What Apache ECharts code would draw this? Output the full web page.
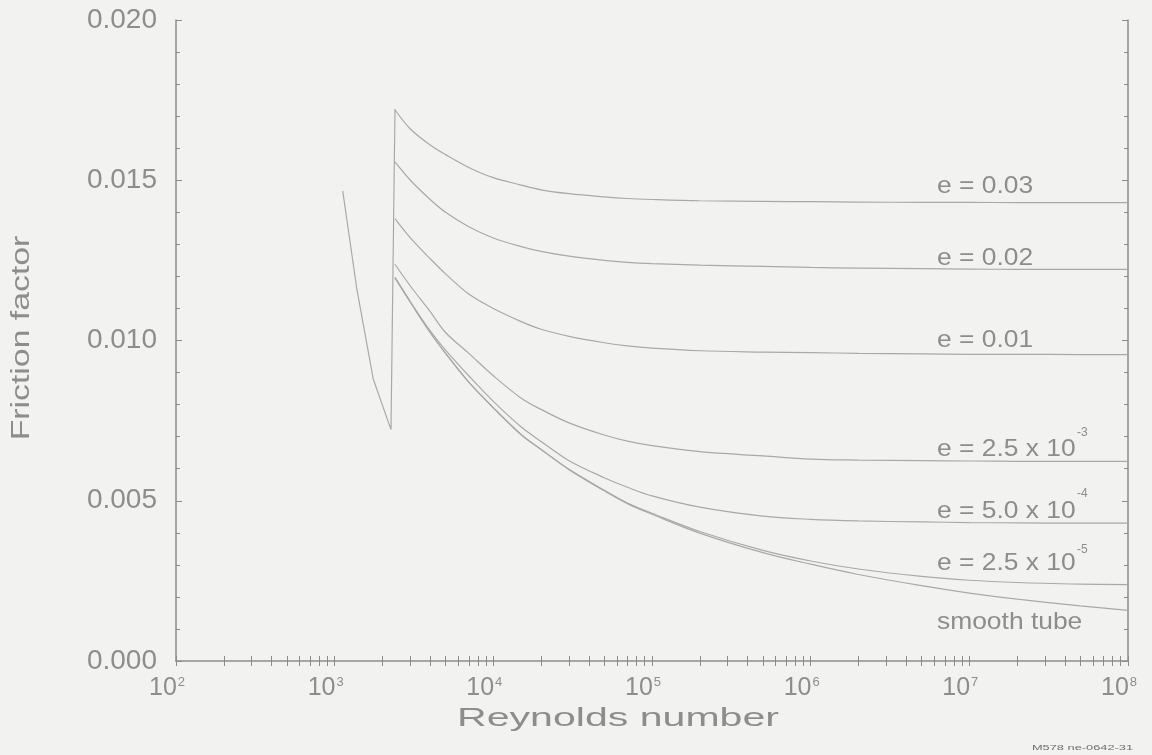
<!DOCTYPE html>
<html>
<head>
<meta charset="utf-8">
<script src="https://cdn.jsdelivr.net/npm/echarts@6/dist/echarts.min.js"></script>
<style>
html,body{margin:0;padding:0;background:#f2f2f1;}
#c{width:1152px;height:755px;}
</style>
</head>
<body>
<div id="c"></div>
<script>
// ---- data ----
const reTurb = [2400,3000,4000,5000,7000,1e4,1.5e4,2e4,3e4,5e4,7e4,1e5,2e5,5e5,1e6,2e6,5e6,1e7,2e7,5e7,1e8];
const f_e030    = [0.0172,0.0166,0.0161,0.0158,0.0154,0.01508,0.01485,0.0147,0.01458,0.01448,0.01443,0.0144,0.01436,0.01434,0.01433,0.01432,0.01431,0.01431,0.0143,0.0143,0.0143];
const f_e020    = [0.01557,0.0150,0.0144,0.0140,0.01355,0.0132,0.01293,0.01278,0.01263,0.0125,0.01244,0.0124,0.01235,0.01231,0.01228,0.01226,0.01224,0.01223,0.01222,0.01222,0.01222];
const f_e010    = [0.0138,0.0132,0.01255,0.01208,0.01145,0.0110,0.01059,0.01035,0.01013,0.00993,0.00983,0.00976,0.00968,0.00964,0.00962,0.0096,0.00958,0.00957,0.00957,0.00956,0.00956];
const f_e0025   = [0.01238,0.0117,0.0109,0.01025,0.0096,0.0089,0.0082,0.00785,0.00743,0.00705,0.00686,0.00672,0.00653,0.0064,0.0063,0.00627,0.00625,0.00624,0.00623,0.00623,0.00623];
const f_e0005   = [0.01196,0.0112,0.0103,0.0097,0.0089,0.0081,0.0073,0.00685,0.00625,0.00572,0.00542,0.00515,0.0048,0.00452,0.00442,0.00437,0.00434,0.00432,0.00431,0.0043,0.0043];
const f_e000025 = [0.01196,0.0112,0.01025,0.0096,0.0087,0.0079,0.00706,0.0066,0.00598,0.00533,0.00493,0.00461,0.00404,0.00345,0.00312,0.00287,0.00264,0.00252,0.00245,0.0024,0.00238];
const f_smooth  = [0.01196,0.0112,0.01025,0.0096,0.0087,0.0079,0.00706,0.0066,0.00597,0.00531,0.00491,0.00458,0.00399,0.00338,0.00302,0.0027,0.00235,0.00212,0.00193,0.00172,0.00158];
const reLam = [1124,1380,1750,2265,2400];
const f_lam = [0.01467,0.0116,0.0088,0.00722,0.01722];

const xTickExps = [2,3,4,5,6,7,8];
const xMinorMult = [2,3,4,5,6,7,8,9];
const yTickLabels = ['0.000','0.005','0.010','0.015','0.020'];
const curveNames = ['e = 0.03','e = 0.02','e = 0.01','e = 2.5 x 10','e = 5.0 x 10','e = 2.5 x 10','smooth tube'];
const curveExps  = ['','','','-3','-4','-5',''];
const xTitle = 'Reynolds number';
const yTitle = 'Friction factor';
const noteText = 'M578 ne-0642-31';

// ---- styling ----
const FONT = '"Liberation Sans", Arial, Helvetica, sans-serif';
const TXT = '#8d8d8d';
const AX = '#8c8c8c';
const LINE = '#a9a9a9';

const pairs = (xs, ys) => xs.map((x, i) => [x, ys[i]]);
const majorX = xTickExps.map(e => Math.pow(10, e));
const allX = [];
xTickExps.forEach((e, i) => {
  allX.push(Math.pow(10, e));
  if (i < xTickExps.length - 1) xMinorMult.forEach(k => allX.push(k * Math.pow(10, e)));
});

const turbSets = [f_e030, f_e020, f_e010, f_e0025, f_e0005, f_e000025, f_smooth];

const series = [{
  type: 'line', name: 'laminar', data: pairs(reLam, f_lam),
  showSymbol: false, symbol: 'none', silent: true,
  lineStyle: { color: LINE, width: 1.2 }
}].concat(turbSets.map((arr, i) => ({
  type: 'line', name: curveNames[i] + curveExps[i], data: pairs(reTurb, arr),
  showSymbol: false, symbol: 'none', silent: true,
  smooth: 0.35,
  lineStyle: { color: LINE, width: 1.2 }
})));

// label layout (pixel positions of the annotations in the reference)
const labY = [186, 258, 340, 449, 511, 563, 622];
const supY = { 3: 433, 4: 494, 5: 550 };
const graphics = [];
curveNames.forEach((t, i) => {
  graphics.push({
    type: 'text', x: 937, y: labY[i], scaleX: 1.1, silent: true,
    style: { text: t, font: '24px ' + FONT, fill: TXT, align: 'left', verticalAlign: 'middle', textAlign: 'left', textVerticalAlign: 'middle' }
  });
  if (curveExps[i]) {
    graphics.push({
      type: 'text', x: 1077, y: supY[i], silent: true,
      style: { text: curveExps[i], font: '12px ' + FONT, fill: TXT, align: 'left', verticalAlign: 'middle', textAlign: 'left', textVerticalAlign: 'middle' }
    });
  }
});
graphics.push({
  type: 'text', x: 618, y: 719, scaleX: 1.58, silent: true,
  style: { text: xTitle, font: '26px ' + FONT, fill: TXT, align: 'center', verticalAlign: 'middle', textAlign: 'center', textVerticalAlign: 'middle' }
});
graphics.push({
  type: 'text', x: 22, y: 338, rotation: Math.PI / 2, scaleX: 1.3, silent: true,
  style: { text: yTitle, font: '26px ' + FONT, fill: TXT, align: 'center', verticalAlign: 'middle', textAlign: 'center', textVerticalAlign: 'middle' }
});
graphics.push({
  type: 'text', x: 1133, y: 748, scaleX: 1.6, silent: true,
  style: { text: noteText, font: '8px ' + FONT, fill: '#6e6e6e', align: 'right', verticalAlign: 'middle', textAlign: 'right', textVerticalAlign: 'middle' }
});

const xBase = {
  type: 'log', logBase: 10, min: 100, max: 1e8,
  splitLine: { show: false },
  axisLine: { show: true, lineStyle: { color: AX, width: 1.5 } }
};

const option = {
  backgroundColor: '#f2f2f1',
  animation: false,
  grid: { left: 176, right: 24, top: 20, bottom: 94, containLabel: false },
  xAxis: [
    Object.assign({}, xBase, {
      position: 'bottom',
      axisTick: { show: true, inside: true, length: 5, customValues: allX, lineStyle: { color: AX, width: 1 } },
      axisLabel: {
        show: true, margin: 15, customValues: majorX,
        padding: [0, 18, 0, 0],
        formatter: v => '{b|10}{s|' + Math.round(Math.log10(v)) + '}',
        rich: {
          b: { fontSize: 25, fontFamily: FONT, color: TXT },
          s: { fontSize: 13, fontFamily: FONT, color: TXT, verticalAlign: 'top', padding: [0, 0, 0, 1] }
        }
      }
    }),
    Object.assign({}, xBase, {
      position: 'top',
      axisTick: { show: true, inside: true, length: 5, customValues: allX, lineStyle: { color: AX, width: 1 } },
      axisLabel: { show: false },
      axisLine: { show: true, lineStyle: { color: '#a8a8a8', width: 1.2 } }
    })
  ],
  yAxis: [
    {
      type: 'value', min: 0, max: 0.02, interval: 0.005, position: 'left',
      splitLine: { show: false },
      axisLine: { show: true, lineStyle: { color: AX, width: 1.5 } },
      axisTick: { show: true, inside: true, length: 6, lineStyle: { color: AX } },
      minorTick: { show: true, splitNumber: 5, length: 4, lineStyle: { color: AX } },
      axisLabel: {
        margin: 19, fontSize: 28, fontFamily: FONT, color: TXT,
        formatter: v => yTickLabels[Math.round(v / 0.005)]
      }
    },
    {
      type: 'value', min: 0, max: 0.02, interval: 0.005, position: 'right',
      splitLine: { show: false },
      axisLine: { show: true, lineStyle: { color: AX, width: 1.5 } },
      axisTick: { show: true, inside: true, length: 6, lineStyle: { color: AX } },
      minorTick: { show: true, splitNumber: 5, length: 4, lineStyle: { color: AX } },
      axisLabel: { show: false }
    }
  ],
  series: series,
  graphic: graphics
};

const chart = echarts.init(document.getElementById('c'), null, { renderer: 'canvas', width: 1152, height: 755 });
chart.setOption(option);
</script>
</body>
</html>
